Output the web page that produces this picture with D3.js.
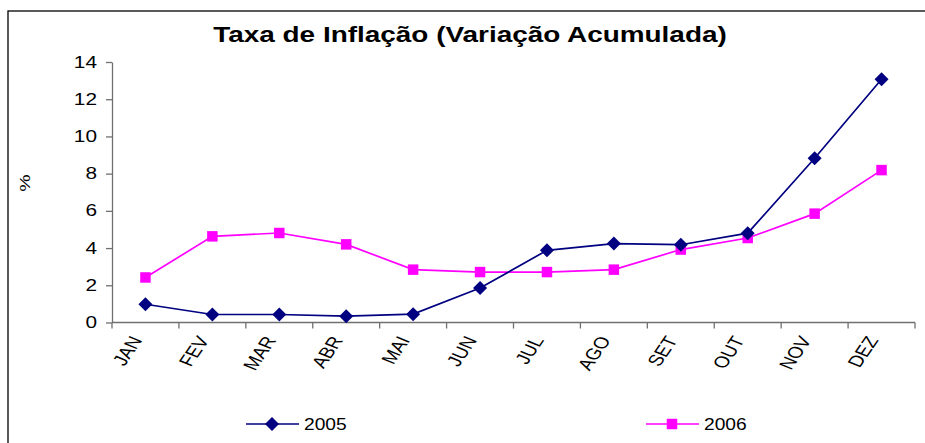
<!DOCTYPE html>
<html>
<head>
<meta charset="utf-8">
<script src="https://cdn.jsdelivr.net/npm/d3@7"></script>
<style>
  body { margin: 0; background: #fff; }
  svg { display: block; font-family: "Liberation Sans", Arial, sans-serif; }
</style>
</head>
<body>
<div id="chart"></div>
<script>
// data
const months = ["JAN", "FEV", "MAR", "ABR", "MAI", "JUN", "JUL", "AGO", "SET", "OUT", "NOV", "DEZ"];
const infl2005 = [0.98, 0.43, 0.43, 0.34, 0.45, 1.85, 3.88, 4.24, 4.18, 4.8, 8.83, 13.07];
const infl2006 = [2.42, 4.63, 4.81, 4.2, 2.84, 2.71, 2.71, 2.84, 3.92, 4.54, 5.85, 8.19];
const yTicks = [0, 2, 4, 6, 8, 10, 12, 14];

const width = 925, height = 443;
const plotLeft = 112, plotRight = 915, plotTop = 62, plotBottom = 322.5;
// the original picture is stretched sideways, so text gets a wider x scale
const stretch = 1.3;

const svg = d3.select("#chart").append("svg")
    .attr("width", width)
    .attr("height", height);

// outer frame (runs off the picture on the right and bottom)
svg.append("rect")
    .attr("x", 8).attr("y", 11)
    .attr("width", 1000).attr("height", 500)
    .attr("fill", "none")
    .attr("stroke", "#000")
    .attr("stroke-width", 1.3);

svg.append("text")
    .attr("transform", `translate(470,42) scale(1.27,1)`)
    .attr("text-anchor", "middle")
    .style("font-size", "22px")
    .style("font-weight", "bold")
    .text("Taxa de Inflação (Variação Acumulada)");

const x = d3.scaleBand().domain(months).range([plotLeft, plotRight]);
const y = d3.scaleLinear().domain([0, 14]).range([plotBottom, plotTop]);

// y axis
const yAxis = svg.append("g")
    .attr("transform", `translate(${plotLeft},0)`)
    .call(d3.axisLeft(y).tickValues(yTicks).tickSize(6).tickSizeOuter(0));
yAxis.select(".domain").attr("stroke", "#707070").attr("stroke-width", 1.3);
yAxis.selectAll(".tick line").attr("stroke", "#707070").attr("stroke-width", 1.3);
yAxis.selectAll(".tick text")
    .attr("x", null)
    .attr("transform", `translate(-15,0) scale(${stretch},1)`)
    .style("font-size", "16px")
    .attr("fill", "#000")
    .attr("font-family", "Liberation Sans, Arial, sans-serif");

svg.append("text")
    .attr("transform", `translate(30,183) scale(1,${stretch}) rotate(-90)`)
    .attr("text-anchor", "middle")
    .style("font-size", "15px")
    .text("%");

// x axis: ticks at the band boundaries
const xg = svg.append("g").attr("transform", `translate(0,${plotBottom})`);
xg.append("line")
    .attr("x1", plotLeft).attr("x2", plotRight)
    .attr("stroke", "#707070").attr("stroke-width", 1.3);
const bounds = months.map(m => x(m)).concat([plotRight]);
xg.selectAll(".tk").data(bounds).enter().append("line")
    .attr("x1", d => d).attr("x2", d => d)
    .attr("y1", 0).attr("y2", 6)
    .attr("stroke", "#707070").attr("stroke-width", 1.3);
xg.selectAll(".lbl").data(months).enter().append("text")
    .attr("transform", d => `translate(${x(d) + x.bandwidth() / 2 - 9},${15}) scale(${stretch},1) rotate(-62)`)
    .attr("text-anchor", "end")
    .attr("dy", "0.35em")
    .style("font-size", "16px")
    .text(d => d);

const cx = d => x(d) + x.bandwidth() / 2;

const line = d3.line()
    .x((d, i) => cx(months[i]))
    .y(d => y(d));

// 2006 drawn first so 2005 sits on top where they meet
svg.append("path")
    .datum(infl2006)
    .attr("d", line)
    .attr("fill", "none")
    .attr("stroke", "#ff00ff")
    .attr("stroke-width", 1.7);
svg.append("path")
    .datum(infl2005)
    .attr("d", line)
    .attr("fill", "none")
    .attr("stroke", "#000080")
    .attr("stroke-width", 1.7);

const square = d3.symbol().type(d3.symbolSquare).size(110);
const diamond = "M0,-7L7,0L0,7L-7,0Z";

svg.selectAll(".sq").data(infl2006).enter().append("path")
    .attr("d", square)
    .attr("transform", (d, i) => `translate(${cx(months[i])},${y(d)})`)
    .attr("fill", "#ff00ff");
svg.selectAll(".dm").data(infl2005).enter().append("path")
    .attr("d", diamond)
    .attr("transform", (d, i) => `translate(${cx(months[i])},${y(d)})`)
    .attr("fill", "#000080");

// legend
const legend = [
  { name: "2005", color: "#000080", shape: diamond, x0: 246 },
  { name: "2006", color: "#ff00ff", shape: square(), x0: 646 }
];
const lg = svg.selectAll(".lg").data(legend).enter().append("g")
    .attr("transform", d => `translate(${d.x0},424)`);
lg.append("line")
    .attr("x1", 0).attr("x2", 53)
    .attr("stroke", d => d.color).attr("stroke-width", 1.7);
lg.append("path")
    .attr("d", d => d.shape)
    .attr("transform", "translate(26,0)")
    .attr("fill", d => d.color);
lg.append("text")
    .attr("transform", "translate(58,0) scale(1.2,1)")
    .attr("dy", "0.35em")
    .style("font-size", "16px")
    .text(d => d.name);
</script>
</body>
</html>
